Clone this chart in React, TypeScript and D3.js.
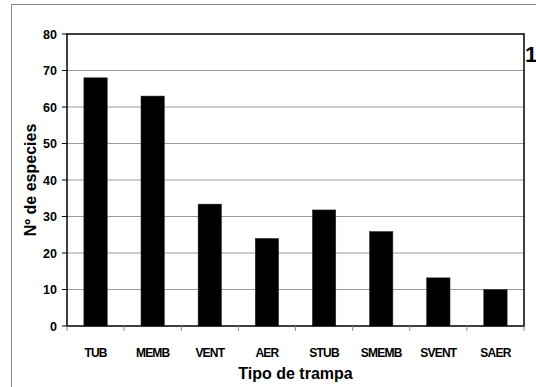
import React from "react";
import * as d3 from "d3";

const categories = ["TUB", "MEMB", "VENT", "AER", "STUB", "SMEMB", "SVENT", "SAER"];
const values = [68, 63, 33.4, 24, 31.8, 25.9, 13.2, 10];
const yTicks = [0, 10, 20, 30, 40, 50, 60, 70, 80];

const W = 536;
const H = 387;
const left = 67;
const right = 524;
const top = 34;
const bottom = 326;

export default function App() {
  const x = d3.scaleBand<string>().domain(categories).range([left, right]).paddingInner(0.59).paddingOuter(0.295);
  const xb = d3.scaleBand<string>().domain(categories).range([left, right]);
  const y = d3.scaleLinear().domain([0, 80]).range([bottom, top]);
  const font = "Arial, 'Liberation Sans', Helvetica, sans-serif";
  return (
    <svg width={W} height={H} style={{ position: "absolute", left: 0, top: 0, background: "#fff" }} fontFamily={font}>
      <rect x={0} y={0} width={W} height={H} fill="#fff" />
      <line x1={11.5} y1={4} x2={11.5} y2={H} stroke="#888" strokeWidth={1} />
      <line x1={11} y1={4.5} x2={W} y2={4.5} stroke="#888" strokeWidth={1} />
      {yTicks.filter(t => t > 0 && t < 80).map(t => (
        <line key={"g" + t} x1={left} x2={right} y1={y(t)} y2={y(t)} stroke="#999" strokeWidth={1} />
      ))}
      {categories.map((c, i) => (
        <rect key={c} x={x(c)} y={y(values[i])} width={x.bandwidth()} height={bottom - y(values[i])} fill="#000" stroke="#333" strokeWidth={0.5} />
      ))}
      <rect x={left} y={top} width={right - left} height={bottom - top} fill="none" stroke="#000" strokeWidth={1.5} />
      {yTicks.map(t => (
        <g key={"t" + t}>
          <line x1={left - 5} x2={left} y1={y(t)} y2={y(t)} stroke="#000" strokeWidth={1} />
          <text x={57} y={y(t)} dy="0.36em" textAnchor="end" fontSize={12.5} fontWeight="bold">{t}</text>
        </g>
      ))}
      {categories.concat(["__end"]).map((c, i) => {
        const xx = i < categories.length ? (xb(c) as number) : right;
        return <line key={"xt" + i} x1={xx} x2={xx} y1={bottom} y2={bottom + 5} stroke="#888" strokeWidth={1} />;
      })}
      {categories.map(c => (
        <text key={"l" + c} x={(x(c) as number) + x.bandwidth() / 2} y={357} textAnchor="middle" fontSize={12} fontWeight="bold" letterSpacing={-0.8}>{c}</text>
      ))}
      <text x={(left + right) / 2} y={379} textAnchor="middle" fontSize={16} fontWeight="bold">Tipo de trampa</text>
      <text transform={`translate(36,${(top + bottom) / 2}) rotate(-90)`} textAnchor="middle" fontSize={16} fontWeight="bold">Nº de especies</text>
      <text x={525} y={62} fontSize={22} fontWeight="bold">1</text>
    </svg>
  );
}
